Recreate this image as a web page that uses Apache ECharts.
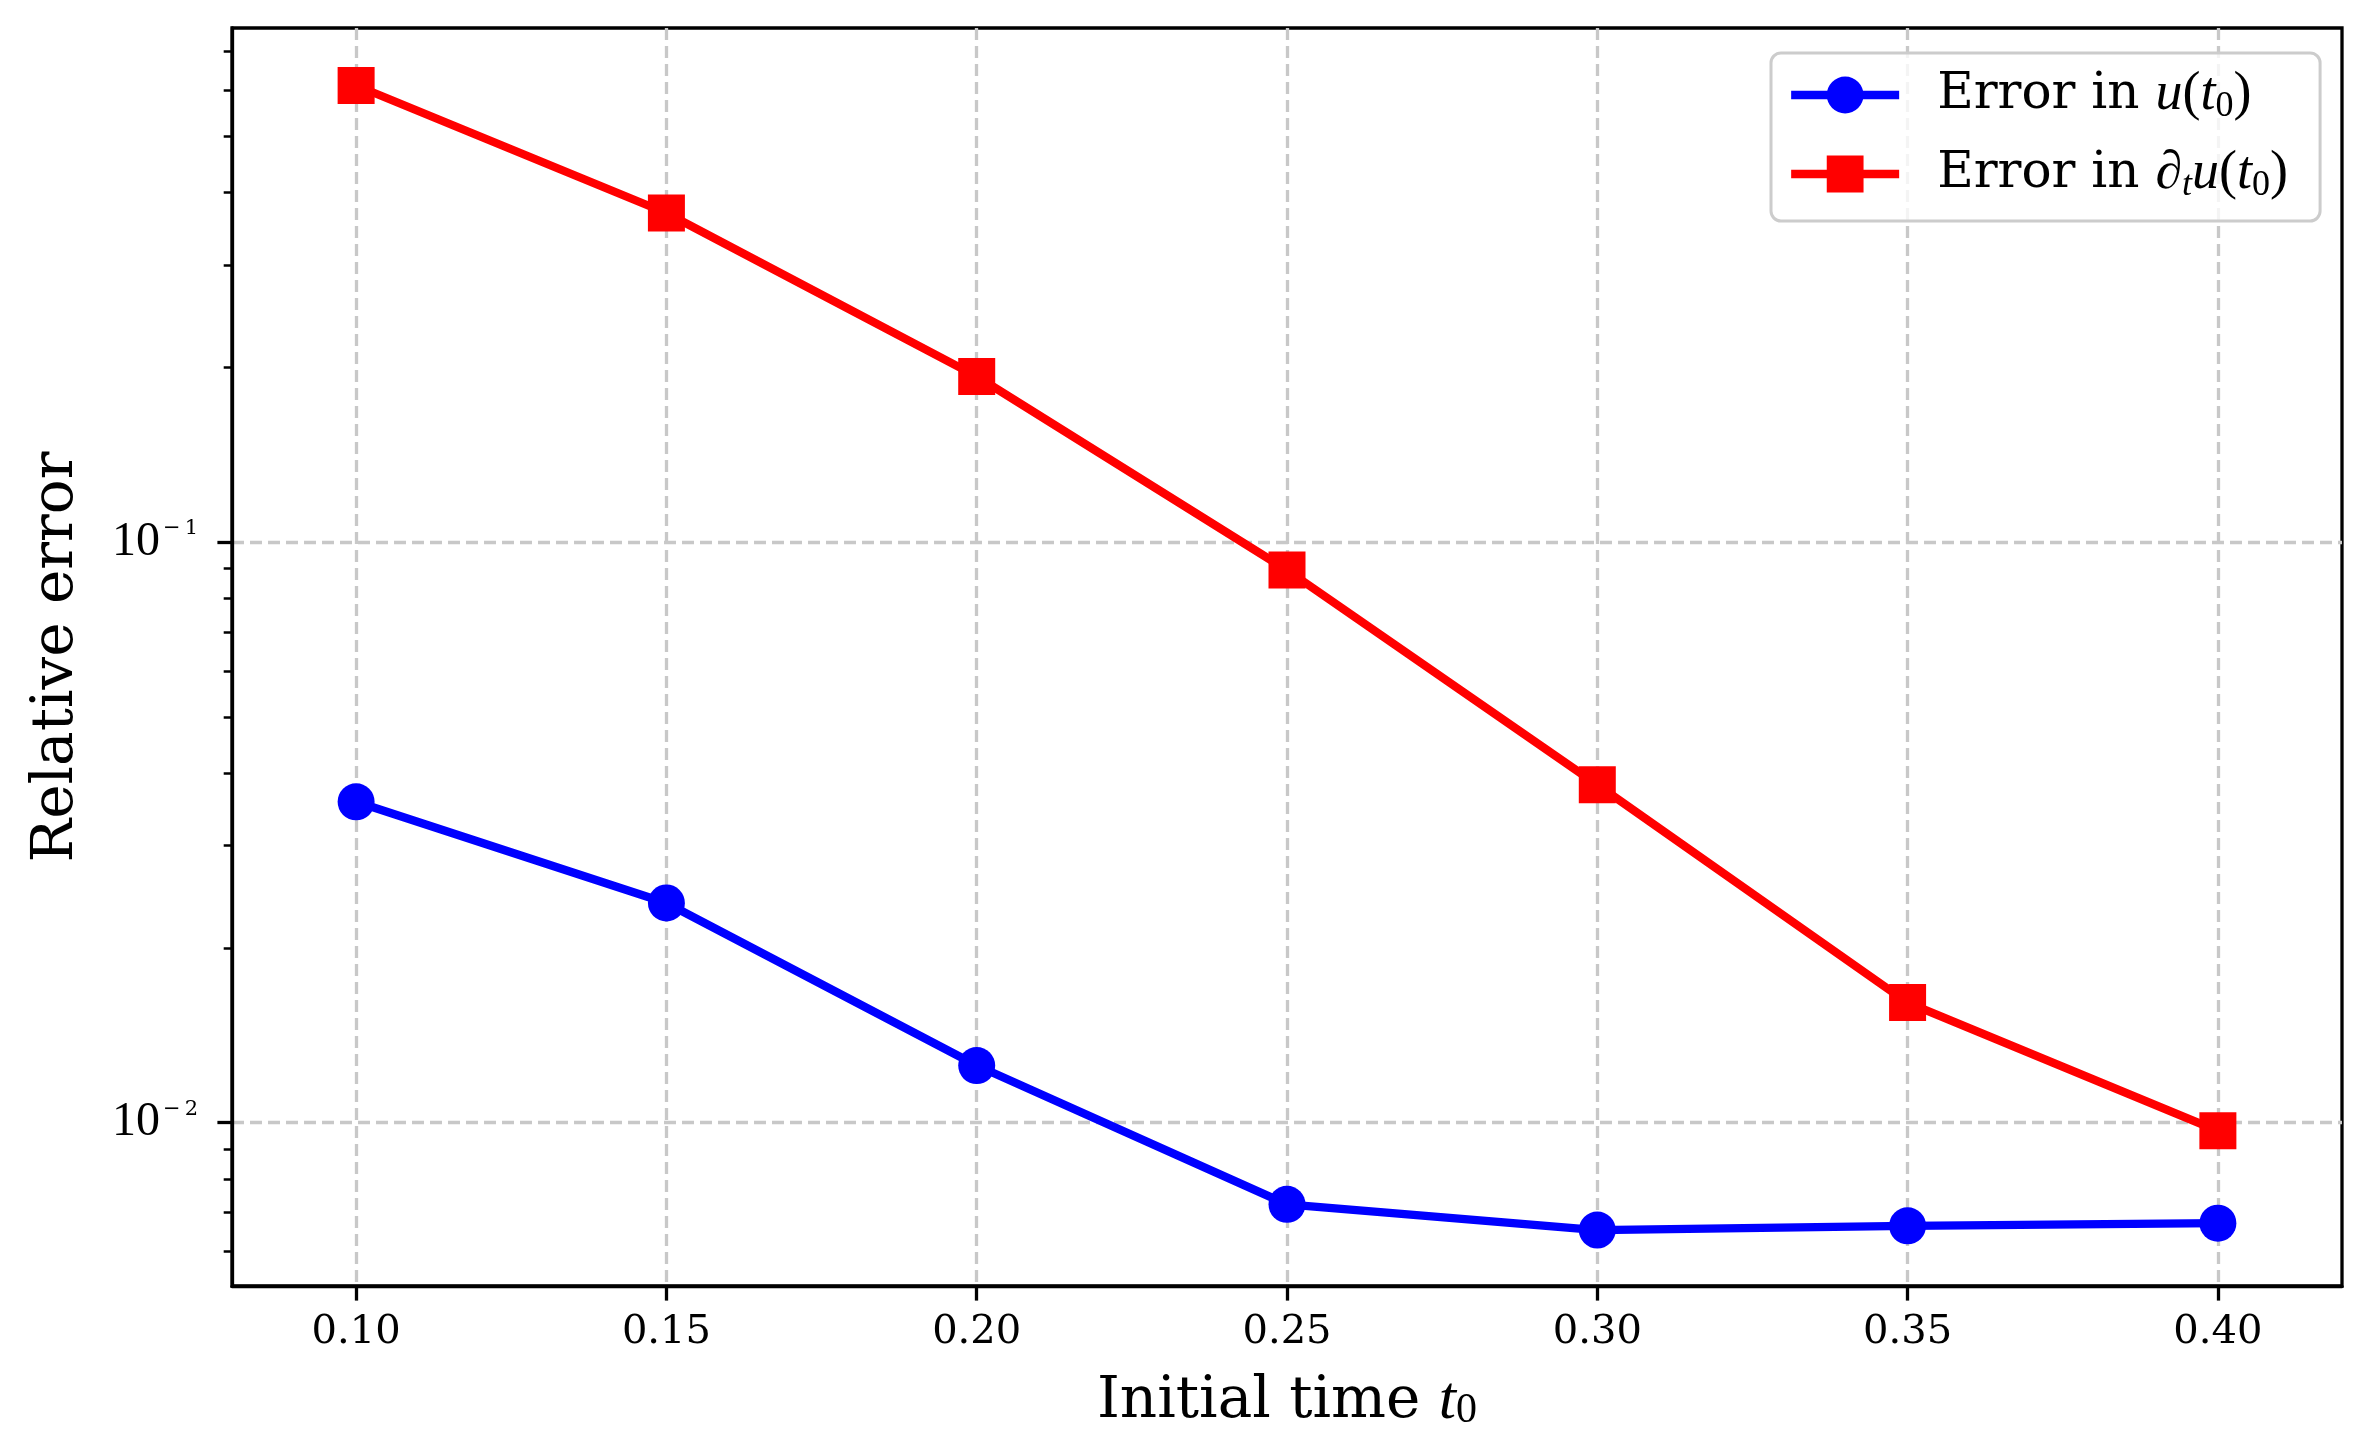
<!DOCTYPE html>
<html>
<head>
<meta charset="utf-8">
<script src="https://cdn.jsdelivr.net/npm/echarts@6/dist/echarts.min.js"></script>
<style>
  html, body { margin: 0; padding: 0; background: #fff; }
  #chart { width: 2373px; height: 1429px; }
</style>
</head>
<body>
<div id="chart"></div>
<script>
// data
const t0Values = [0.10, 0.15, 0.20, 0.25, 0.30, 0.35, 0.40];
const errU = [0.0357, 0.0239, 0.01254, 0.00723, 0.00653, 0.00664, 0.00671];
const errDtU = [0.612, 0.369, 0.193, 0.0895, 0.0382, 0.0161, 0.00968];

const xTicks = [0.10, 0.15, 0.20, 0.25, 0.30, 0.35, 0.40];
const yMajorTicks = [0.01, 0.1];
const yMinorTicks = [0.006, 0.007, 0.008, 0.009,
  0.02, 0.03, 0.04, 0.05, 0.06, 0.07, 0.08, 0.09,
  0.2, 0.3, 0.4, 0.5, 0.6, 0.7];

const seriesNames = ["u", "dtu"];
const legendLabels = {
  u: "{a|Error in }{m|u}{p|(}{m|t}{s|0}{p|)}",
  dtu: "{a|Error in }{m|\u2202}{si|t}{m|u}{p|(}{m|t}{s|0}{p|)}",
};

const SERIF = "DejaVu Serif";
const MATH = "Liberation Serif";
const gridLine = { color: "#c8c8c8", width: 3.3, type: [12, 6] };

const chart = echarts.init(document.getElementById("chart"));

const mathRich = (base, sub) => ({
  a: { fontFamily: SERIF, fontSize: base, lineHeight: 60, color: "#000" },
  m: { fontFamily: MATH, fontStyle: "italic", fontSize: base + 4, lineHeight: 60, color: "#000" },
  p: { fontFamily: MATH, fontSize: base + 4, lineHeight: 60, color: "#000" },
  s: { fontFamily: MATH, fontSize: sub, lineHeight: 34, verticalAlign: "bottom", color: "#000" },
  si: { fontFamily: MATH, fontStyle: "italic", fontSize: sub, lineHeight: 34, verticalAlign: "bottom", color: "#000" },
});

const option = {
  animation: false,
  backgroundColor: "#fff",
  grid: {
    left: 232, right: 31, top: 28, bottom: 143,
    containLabel: false,
    outerBoundsMode: "none",
    show: true,
    borderColor: "#000",
    borderWidth: 3.3,
    backgroundColor: "transparent",
  },
  legend: {
    orient: "vertical",
    left: 1771,
    top: 53,
    padding: [15, 32, 17, 16],
    itemWidth: 108,
    itemHeight: 46,
    itemGap: 22,
    backgroundColor: "rgba(255,255,255,0.8)",
    borderColor: "#cccccc",
    borderWidth: 3,
    borderRadius: 10,
    data: seriesNames,
    formatter: (name) => legendLabels[name],
    lineStyle: { width: 8.3 },
    textStyle: { padding: [0, 0, 0, 33], rich: mathRich(50, 36) },
  },
  xAxis: {
    type: "value",
    min: 0.08,
    max: 0.42,
    name: "{a|Initial time }{m|t}{s|0}",
    nameLocation: "middle",
    nameGap: 86,
    nameTextStyle: { rich: mathRich(58, 42) },
    axisLine: { show: true, lineStyle: { color: "#000", width: 3.3 } },
    axisTick: { show: true, customValues: xTicks, length: 14.6, lineStyle: { color: "#000", width: 3.3 } },
    axisLabel: {
      customValues: xTicks,
      margin: 27,
      color: "#000",
      fontFamily: SERIF,
      fontSize: 40,
      formatter: (v) => v.toFixed(2),
    },
    splitLine: { show: true, lineStyle: gridLine },
  },
  yAxis: [
    {
      type: "log",
      min: 0.00523,
      max: 0.7687,
      name: "Relative error",
      nameLocation: "middle",
      nameGap: 143,
      nameTextStyle: { fontFamily: SERIF, fontSize: 58, color: "#000", lineHeight: 64 },
      axisLine: { show: true, lineStyle: { color: "#000", width: 3.3 } },
      axisTick: { show: true, customValues: yMajorTicks, length: 14.6, lineStyle: { color: "#000", width: 3.3 } },
      axisLabel: {
        customValues: yMajorTicks,
        margin: 34,
        fontFamily: MATH,
        fontSize: 48,
        color: "#000",
        formatter: (v) => {
          const e = Math.round(Math.log10(v));
          return "{b|10}{m|\u2212}{s|" + (-e) + "}";
        },
        rich: {
          b: { fontFamily: MATH, fontSize: 48, lineHeight: 48, color: "#000" },
          m: { fontFamily: SERIF, fontSize: 21, lineHeight: 36, verticalAlign: "top", padding: [0, 0, 0, 3], color: "#000" },
          s: { fontFamily: SERIF, fontSize: 21, lineHeight: 36, verticalAlign: "top", padding: [0, 0, 0, 4], color: "#000" },
        },
      },
      splitLine: { show: true, lineStyle: gridLine },
    },
    {
      type: "log",
      min: 0.00523,
      max: 0.7687,
      position: "left",
      offset: 0,
      axisLine: { show: false },
      axisTick: { show: true, customValues: yMinorTicks, length: 8.3, lineStyle: { color: "#000", width: 2.5 } },
      axisLabel: { show: false },
      splitLine: { show: false },
    },
  ],
  series: [
    {
      name: "u",
      type: "line",
      data: t0Values.map((t, i) => [t, errU[i]]),
      yAxisIndex: 0,
      symbol: "circle",
      symbolSize: 37,
      color: "#0000ff",
      lineStyle: { color: "#0000ff", width: 8.3 },
      itemStyle: { color: "#0000ff" },
      z: 3,
    },
    {
      name: "dtu",
      type: "line",
      data: t0Values.map((t, i) => [t, errDtU[i]]),
      yAxisIndex: 0,
      symbol: "rect",
      symbolSize: 37,
      color: "#ff0000",
      lineStyle: { color: "#ff0000", width: 8.3 },
      itemStyle: { color: "#ff0000" },
      z: 3,
    },
  ],
};

chart.setOption(option);
</script>
</body>
</html>
